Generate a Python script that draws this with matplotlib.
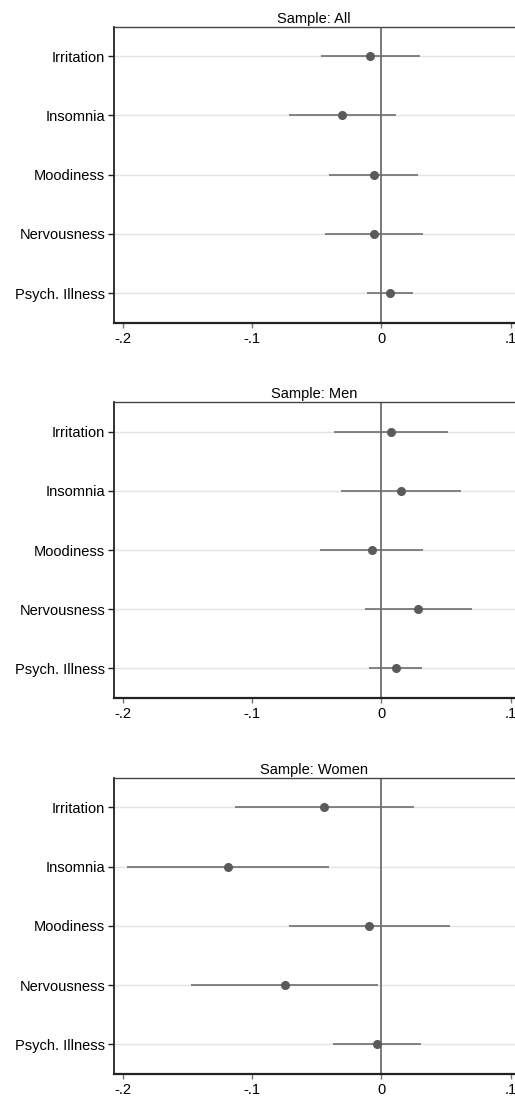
import numpy as np
import matplotlib
matplotlib.use("Agg")
import matplotlib.pyplot as plt

plt.rcParams['font.family'] = ['Liberation Sans', 'DejaVu Sans']

# outcome labels (top to bottom)
outcomes = ["Irritation", "Insomnia", "Moodiness", "Nervousness", "Psych. Illness"]
samples = ["All", "Men", "Women"]

# point estimates and confidence bounds per sample
coef_all = [-0.0085, -0.0302, -0.0059, -0.0057, 0.0067]
lo_all = [-0.0467, -0.0716, -0.0402, -0.0436, -0.0113]
hi_all = [0.0296, 0.0113, 0.0284, 0.0322, 0.0247]

coef_men = [0.0075, 0.0155, -0.0075, 0.0286, 0.0111]
lo_men = [-0.0363, -0.0309, -0.0477, -0.0129, -0.0093]
hi_men = [0.0518, 0.0616, 0.0322, 0.0698, 0.0314]

coef_women = [-0.0441, -0.1188, -0.0093, -0.0747, -0.0031]
lo_women = [-0.1131, -0.1966, -0.0711, -0.1469, -0.0371]
hi_women = [0.0250, -0.0405, 0.0528, -0.0028, 0.0309]

xticks = [-0.2, -0.1, 0.0, 0.1]
xticklabels = ["-.2", "-.1", "0", ".1"]

W, H = 515, 1098
fig = plt.figure(figsize=(W / 100, H / 100), dpi=100)

# panel boxes in pixels: (top, bottom)
boxes = [(26.7, 322.7), (402.3, 697.7), (777.7, 1074.0)]
left_px, right_px = 113.5, 515.0

data = [(coef_all, lo_all, hi_all), (coef_men, lo_men, hi_men),
        (coef_women, lo_women, hi_women)]

for (top, bot), name, (coef, lo, hi) in zip(boxes, samples, data):
    ax = fig.add_axes([left_px / W, 1 - bot / H, (right_px - left_px) / W, (bot - top) / H])
    y = np.arange(1, len(outcomes) + 1)
    for yy in y:
        ax.axhline(yy, color="#e3e3e3", lw=1.0, zorder=0)
    ax.axvline(0, color="#555555", lw=1.1, zorder=1)
    ax.hlines(y, lo, hi, color="#6e6e6e", lw=1.2, zorder=2)
    ax.plot(coef, y, "o", color="#5a5a5a", ms=5.5, zorder=3)

    ax.set_xlim(-0.2071, 0.1033)
    ax.set_ylim(len(outcomes) + 0.5, 0.5)
    ax.set_yticks(y)
    ax.set_yticklabels(outcomes, fontsize=10.5)
    ax.set_xticks(xticks)
    ax.set_xticklabels(xticklabels, fontsize=10.5)
    ax.tick_params(axis="y", length=4, width=1, color="#222222", pad=2)
    ax.tick_params(axis="x", length=3.5, width=1, color="#777777", pad=3)
    ax.set_title("Sample: " + name, fontsize=10.5, pad=3)

    ax.spines["right"].set_visible(False)
    ax.spines["left"].set_linewidth(1.3)
    ax.spines["bottom"].set_linewidth(1.6)
    ax.spines["left"].set_color("#222222")
    ax.spines["bottom"].set_color("#222222")
    ax.spines["top"].set_color("#444444")
    ax.spines["top"].set_linewidth(1.0)

fig.savefig("out.png", dpi=100, facecolor="white")
